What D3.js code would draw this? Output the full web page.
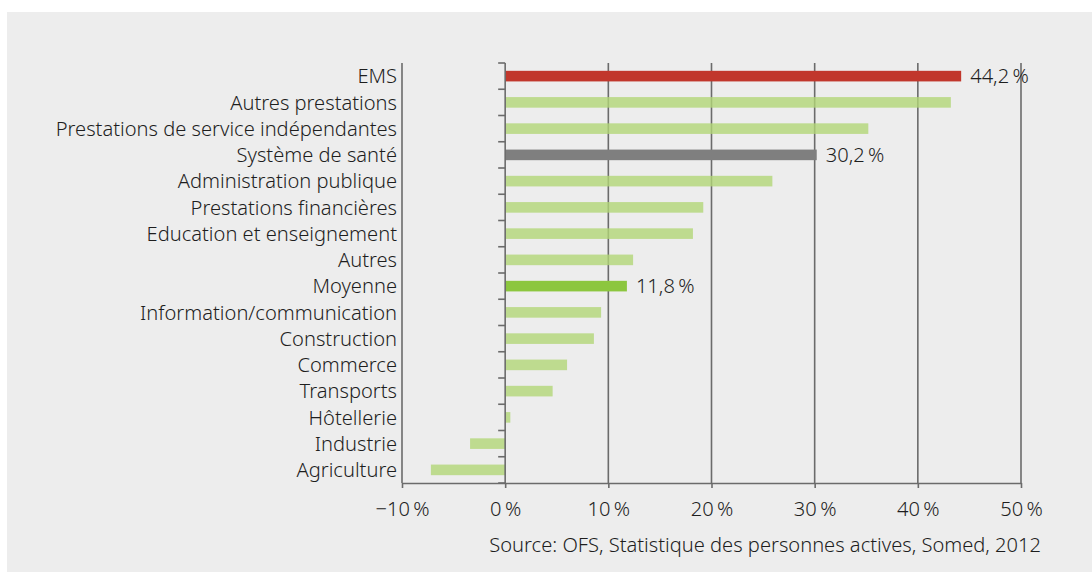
<!DOCTYPE html>
<html>
<head>
<meta charset="utf-8">
<script src="https://cdn.jsdelivr.net/npm/d3@7"></script>
<style>
  body { margin: 0; background: #fff; }
  svg { display: block; font-family: "Noto Sans", "Open Sans", sans-serif; font-weight: 300; }
</style>
</head>
<body>
<svg width="1092" height="572"></svg>
<script>
var categories = ["EMS", "Autres prestations", "Prestations de service indépendantes", "Système de santé",
    "Administration publique", "Prestations financières", "Education et enseignement", "Autres",
    "Moyenne", "Information/communication", "Construction", "Commerce", "Transports",
    "Hôtellerie", "Industrie", "Agriculture"];
var values = [44.2, 43.2, 35.2, 30.2, 25.9, 19.2, 18.2, 12.4, 11.8, 9.3, 8.6, 6.0, 4.6, 0.5, -3.4, -7.2];
var highlights = { "EMS": "red", "Système de santé": "gray", "Moyenne": "green" };
var xTicks = [-10, 0, 10, 20, 30, 40, 50];
var source = "Source: OFS, Statistique des personnes actives, Somed, 2012";

var fills = { red: "#c1372c", gray: "#7f7f7f", green: "#8cc63f", normal: "#b1d677" };

var svg = d3.select("svg"),
    margin = { top: 63, left: 402, right: 71, bottom: 89 },
    width = +svg.attr("width") - margin.left - margin.right,
    height = +svg.attr("height") - margin.top - margin.bottom;

var fontSize = 20.1;

svg.append("rect")
    .attr("x", 7).attr("y", 12)
    .attr("width", 1085).attr("height", 560)
    .attr("fill", "#ededed");

var x = d3.scaleLinear().domain([-10, 50]).range([0, width]);
var band = d3.scaleBand().domain(categories).range([0, height]);

var g = svg.append("g")
    .attr("transform", "translate(" + margin.left + "," + margin.top + ")");

var lineColor = "#6b6b6b";

// vertical grid lines
g.selectAll(".grid")
    .data(xTicks.filter(function(d) { return d !== 0; }))
    .enter().append("line")
    .attr("x1", function(d) { return x(d); })
    .attr("x2", function(d) { return x(d); })
    .attr("y1", 0).attr("y2", height)
    .attr("stroke", lineColor)
    .attr("stroke-width", 1.6);

// bars
g.selectAll(".bar")
    .data(categories)
    .enter().append("rect")
    .attr("x", function(d, i) { return x(Math.min(0, values[i])); })
    .attr("width", function(d, i) { return Math.abs(x(values[i]) - x(0)); })
    .attr("y", function(d) { return band(d) + band.bandwidth() / 2 - 5.3; })
    .attr("height", 10.6)
    .attr("fill", function(d) { return fills[highlights[d] || "normal"]; })
    .attr("fill-opacity", function(d) { return highlights[d] ? 1 : 0.8; });

// value labels on highlighted bars
g.selectAll(".val")
    .data(categories.filter(function(d) { return highlights[d]; }))
    .enter().append("text")
    .attr("x", function(d) { return x(values[categories.indexOf(d)]) + 9; })
    .attr("y", function(d) { return band(d) + band.bandwidth() / 2; })
    .attr("dy", "0.36em")
    .attr("font-size", fontSize)
    .attr("fill", "#1e1e1e")
    .text(function(d) { return d3.format(".1f")(values[categories.indexOf(d)]).replace(".", ",") + "\u2009%"; });

// y axis at zero
var yAxis = g.append("g").attr("transform", "translate(" + x(0) + ",0)");
yAxis.append("line")
    .attr("y1", 0).attr("y2", height)
    .attr("stroke", lineColor).attr("stroke-width", 1.6);
yAxis.selectAll(".tick")
    .data(d3.range(categories.length + 1))
    .enter().append("line")
    .attr("x1", -7).attr("x2", 0)
    .attr("y1", function(i) { return i * band.step(); })
    .attr("y2", function(i) { return i * band.step(); })
    .attr("stroke", lineColor).attr("stroke-width", 1.6);

// category labels
g.selectAll(".cat")
    .data(categories)
    .enter().append("text")
    .attr("x", -5)
    .attr("y", function(d) { return band(d) + band.bandwidth() / 2; })
    .attr("dy", "0.36em")
    .attr("text-anchor", "end")
    .attr("font-size", fontSize)
    .attr("fill", "#1e1e1e")
    .text(function(d) { return d; });

// x axis
var xAxis = d3.axisBottom(x)
    .tickValues(xTicks)
    .tickSize(5)
    .tickSizeOuter(0)
    .tickPadding(14)
    .tickFormat(function(d) { return (d < 0 ? "\u2212" + Math.abs(d) : d) + "\u2009%"; });

var ax = g.append("g")
    .attr("transform", "translate(0," + height + ")")
    .call(xAxis);
ax.select(".domain").attr("stroke", lineColor).attr("stroke-width", 1.6);
ax.selectAll(".tick line").attr("stroke", lineColor).attr("stroke-width", 1.6);
ax.selectAll(".tick text")
    .attr("font-size", fontSize)
    .attr("fill", "#1e1e1e");
ax.attr("font-family", null).attr("font-size", null);

svg.append("text")
    .attr("x", 1041).attr("y", 552)
    .attr("text-anchor", "end")
    .attr("font-size", fontSize)
    .attr("fill", "#1e1e1e")
    .text(source);
</script>
</body>
</html>
